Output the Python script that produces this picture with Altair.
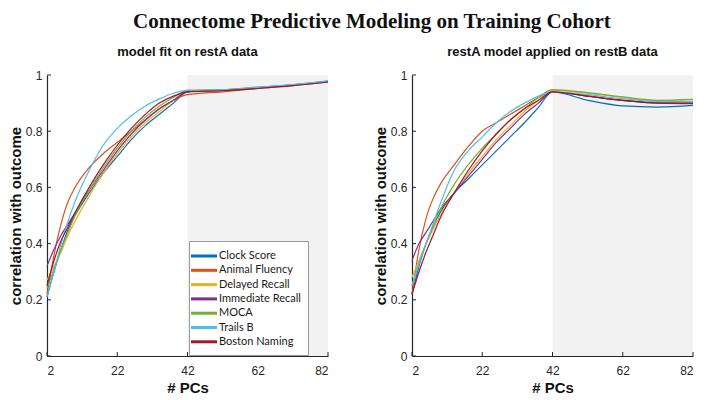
import altair as alt
import pandas as pd

SERIES = ["Clock Score", "Animal Fluency", "Delayed Recall", "Immediate Recall",
          "MOCA", "Trails B", "Boston Naming"]
COLORS = ["#0072BD", "#D95319", "#EDB120", "#7E2F8E", "#77AC30", "#4DBEEE", "#A2142F"]

X_PTS = [2, 4, 6, 8, 10, 14, 18, 22, 26, 30, 34, 38, 42, 52, 62, 72, 82]

# model fit on restA data
LEFT_CLOCK = [0.21, 0.30, 0.38, 0.45, 0.50, 0.58, 0.65, 0.71, 0.77, 0.82, 0.86, 0.90, 0.94, 0.945, 0.955, 0.965, 0.978]
LEFT_ANIMAL = [0.22, 0.36, 0.47, 0.55, 0.60, 0.67, 0.72, 0.76, 0.80, 0.84, 0.88, 0.91, 0.93, 0.94, 0.952, 0.962, 0.975]
LEFT_DELAYED = [0.27, 0.32, 0.37, 0.43, 0.48, 0.57, 0.65, 0.72, 0.78, 0.83, 0.87, 0.91, 0.945, 0.948, 0.956, 0.965, 0.976]
LEFT_IMMEDIATE = [0.32, 0.38, 0.43, 0.47, 0.51, 0.59, 0.66, 0.73, 0.79, 0.84, 0.88, 0.91, 0.94, 0.946, 0.955, 0.964, 0.976]
LEFT_MOCA = [0.24, 0.31, 0.38, 0.44, 0.50, 0.59, 0.67, 0.74, 0.80, 0.85, 0.89, 0.92, 0.945, 0.948, 0.956, 0.965, 0.977]
LEFT_TRAILS = [0.21, 0.30, 0.40, 0.48, 0.55, 0.66, 0.75, 0.81, 0.855, 0.89, 0.915, 0.935, 0.945, 0.948, 0.957, 0.966, 0.979]
LEFT_BOSTON = [0.25, 0.34, 0.41, 0.46, 0.51, 0.60, 0.68, 0.75, 0.81, 0.86, 0.90, 0.925, 0.94, 0.944, 0.952, 0.962, 0.975]

# restA model applied on restB data
RIGHT_CLOCK = [0.22, 0.32, 0.40, 0.46, 0.51, 0.58, 0.63, 0.68, 0.73, 0.78, 0.83, 0.885, 0.94, 0.91, 0.89, 0.886, 0.892]
RIGHT_ANIMAL = [0.22, 0.38, 0.49, 0.56, 0.61, 0.68, 0.745, 0.80, 0.83, 0.86, 0.89, 0.92, 0.94, 0.925, 0.91, 0.903, 0.905]
RIGHT_DELAYED = [0.28, 0.34, 0.40, 0.45, 0.50, 0.58, 0.65, 0.71, 0.77, 0.82, 0.87, 0.91, 0.945, 0.935, 0.92, 0.908, 0.912]
RIGHT_IMMEDIATE = [0.34, 0.40, 0.44, 0.48, 0.52, 0.58, 0.64, 0.70, 0.76, 0.81, 0.86, 0.90, 0.94, 0.925, 0.91, 0.90, 0.898]
RIGHT_MOCA = [0.25, 0.33, 0.40, 0.46, 0.52, 0.61, 0.68, 0.74, 0.79, 0.84, 0.88, 0.92, 0.948, 0.937, 0.922, 0.91, 0.913]
RIGHT_TRAILS = [0.25, 0.33, 0.40, 0.47, 0.54, 0.66, 0.73, 0.78, 0.83, 0.87, 0.90, 0.925, 0.94, 0.93, 0.915, 0.905, 0.905]
RIGHT_BOSTON = [0.22, 0.30, 0.37, 0.43, 0.49, 0.58, 0.66, 0.73, 0.79, 0.84, 0.88, 0.91, 0.94, 0.925, 0.91, 0.90, 0.90]

LEFT = [LEFT_CLOCK, LEFT_ANIMAL, LEFT_DELAYED, LEFT_IMMEDIATE, LEFT_MOCA, LEFT_TRAILS, LEFT_BOSTON]
RIGHT = [RIGHT_CLOCK, RIGHT_ANIMAL, RIGHT_DELAYED, RIGHT_IMMEDIATE, RIGHT_MOCA, RIGHT_TRAILS, RIGHT_BOSTON]

Y_TICKS = [0, 0.2, 0.4, 0.6, 0.8, 1]
X_TICKS = [2, 22, 42, 62, 82]
SHADE_X = [42, 82]
SHADE_Y = [0, 1]

MAIN_TITLE = "Connectome Predictive Modeling on Training Cohort"
SUB_LEFT = "model fit on restA data"
SUB_RIGHT = "restA model applied on restB data"
X_TITLE = "# PCs"
Y_TITLE = "correlation with outcome"

W = 281
H = 281
AX = "#262626"
SANS = "Liberation Sans"


def panel(values, subtitle, show_legend):
    rows = []
    for name, vals in zip(SERIES, values):
        for x, v in zip(X_PTS, vals):
            rows.append({"series": name, "pcs": x, "r": v})
    df = pd.DataFrame(rows)

    xs = alt.Scale(domain=[2, 82], nice=False, zero=False)
    ys = alt.Scale(domain=[0, 1], nice=False)
    xa = alt.Axis(values=X_TICKS, title=X_TITLE, format="d", labelPadding=9, titlePadding=4)
    ya = alt.Axis(values=Y_TICKS, title=Y_TITLE, format="~g", titlePadding=2)

    shade = alt.Chart(pd.DataFrame({"x0": [SHADE_X[0]], "x1": [SHADE_X[1]],
                                    "y0": [SHADE_Y[0]], "y1": [SHADE_Y[1]]})).mark_rect(
        color="#f2f2f2").encode(
        x=alt.X("x0:Q", scale=xs, axis=xa),
        x2="x1:Q",
        y=alt.Y("y0:Q", scale=ys, axis=ya),
        y2="y1:Q",
    )

    if show_legend:
        legend = alt.Legend(
            title=None, orient="none", legendX=142, legendY=166,
            fillColor="white", strokeColor="#9a9a9a", padding=7,
            symbolType="M-2,0L2,0", symbolSize=169, symbolStrokeWidth=3,
            labelFont="Lato", labelFontSize=11, labelColor="#1a1a1a",
            rowPadding=0.3, labelOffset=7,
        )
    else:
        legend = None

    lines = alt.Chart(df).mark_line(interpolate="monotone", strokeWidth=1.2).encode(
        x=alt.X("pcs:Q", scale=xs, axis=xa),
        y=alt.Y("r:Q", scale=ys, axis=ya),
        color=alt.Color("series:N", scale=alt.Scale(domain=SERIES, range=COLORS),
                        sort=SERIES, legend=legend),
    )

    yt = alt.Chart(pd.DataFrame({"v": Y_TICKS})).mark_rule(color=AX, strokeWidth=1).encode(
        y=alt.Y("v:Q", scale=ys, axis=ya), x=alt.value(0), x2=alt.value(4))
    xt = alt.Chart(pd.DataFrame({"v": X_TICKS})).mark_rule(color=AX, strokeWidth=1).encode(
        x=alt.X("v:Q", scale=xs, axis=xa), y=alt.value(H), y2=alt.value(H - 4))

    return alt.layer(shade, lines, yt, xt).properties(
        width=W, height=H,
        title=alt.TitleParams(subtitle, font=SANS, fontSize=13, fontWeight="bold",
                              color="#111111", offset=10),
    )


left = panel(LEFT, SUB_LEFT, True)
right = panel(RIGHT, SUB_RIGHT, False)

chart = alt.hconcat(left, right, spacing=42).properties(
    title=alt.TitleParams(MAIN_TITLE, font="Liberation Serif", fontSize=21,
                          fontWeight="bold", color="#111111", anchor="middle",
                          offset=14, dx=20),
    padding={"left": 0, "top": 3, "right": 0, "bottom": 0},
).configure_view(stroke=None).configure_axis(
    grid=False, domainColor=AX, domainWidth=1.2, tickSize=0,
    labelFont=SANS, labelFontSize=12, labelColor=AX, labelPadding=5,
    titleFont=SANS, titleFontSize=15, titleFontWeight="bold", titleColor="#111111",
    titlePadding=6,
).configure_concat(spacing=42)

chart.save("out.html", embed_options={"renderer": "svg", "actions": False})
